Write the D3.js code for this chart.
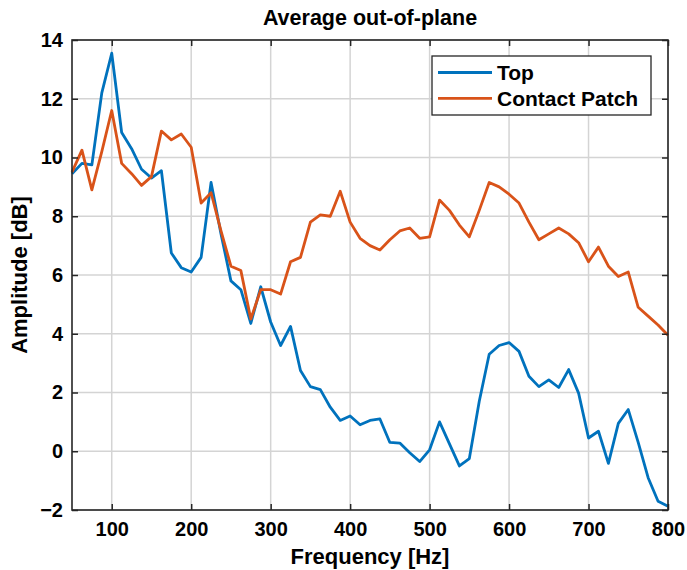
<!DOCTYPE html>
<html>
<head>
<meta charset="utf-8">
<script src="https://cdn.jsdelivr.net/npm/d3@7"></script>
<style>
  html, body { margin: 0; padding: 0; background: #fff; }
  svg { display: block; }
  text { font-family: "Liberation Sans", Arial, Helvetica, sans-serif; font-weight: bold; fill: #000; }
</style>
</head>
<body>
<svg id="chart" width="687" height="570"></svg>
<script>
const frequency = [50, 62.5, 75, 87.5, 100, 112.5, 125, 137.5, 150, 162.5, 175, 187.5, 200, 212.5, 225, 237.5, 250, 262.5, 275, 287.5, 300, 312.5, 325, 337.5, 350, 362.5, 375, 387.5, 400, 412.5, 425, 437.5, 450, 462.5, 475, 487.5, 500, 512.5, 525, 537.5, 550, 562.5, 575, 587.5, 600, 612.5, 625, 637.5, 650, 662.5, 675, 687.5, 700, 712.5, 725, 737.5, 750, 762.5, 775, 787.5, 800];
const topValues = [9.45, 9.8, 9.75, 12.2, 13.55, 10.85, 10.3, 9.6, 9.3, 9.55, 6.75, 6.25, 6.1, 6.6, 9.15, 7.4, 5.8, 5.5, 4.35, 5.6, 4.4, 3.6, 4.25, 2.75, 2.2, 2.1, 1.5, 1.05, 1.2, 0.9, 1.05, 1.1, 0.3, 0.28, -0.05, -0.35, 0.05, 1.0, 0.25, -0.5, -0.25, 1.7, 3.3, 3.6, 3.7, 3.4, 2.55, 2.2, 2.43, 2.17, 2.78, 1.98, 0.45, 0.68, -0.41, 0.95, 1.42, 0.3, -0.9, -1.7, -1.87];
const contactValues = [9.5, 10.25, 8.9, 10.2, 11.6, 9.8, 9.45, 9.05, 9.35, 10.9, 10.6, 10.8, 10.35, 8.45, 8.8, 7.5, 6.3, 6.15, 4.5, 5.5, 5.5, 5.35, 6.45, 6.6, 7.8, 8.05, 8.0, 8.85, 7.8, 7.25, 7.0, 6.85, 7.2, 7.5, 7.6, 7.25, 7.3, 8.55, 8.2, 7.7, 7.3, 8.2, 9.15, 9.0, 8.75, 8.45, 7.8, 7.2, 7.4, 7.6, 7.4, 7.1, 6.45, 6.95, 6.3, 5.95, 6.1, 4.9, 4.6, 4.3, 3.95];
const seriesNames = ["Top", "Contact Patch"];
const seriesColors = ["#0072BD", "#D95319"];
const xTicks = [100, 200, 300, 400, 500, 600, 700, 800];
const yTicks = [-2, 0, 2, 4, 6, 8, 10, 12, 14];
const titleText = "Average out-of-plane";
const xLabel = "Frequency [Hz]";
const yLabel = "Amplitude [dB]";

const svg = d3.select("#chart");
const m = { left: 72, right: 668, top: 40, bottom: 510 };
const x = d3.scaleLinear().domain([50, 800]).range([m.left, m.right]);
const y = d3.scaleLinear().domain([-2, 14]).range([m.bottom, m.top]);

// grid
const grid = svg.append("g");
grid.selectAll(".gx").data(xTicks).join("line")
  .attr("x1", d => x(d)).attr("x2", d => x(d))
  .attr("y1", m.top).attr("y2", m.bottom)
  .attr("stroke", "#d4d4d4").attr("stroke-width", 1.5);
grid.selectAll(".gy").data(yTicks).join("line")
  .attr("x1", m.left).attr("x2", m.right)
  .attr("y1", d => y(d)).attr("y2", d => y(d))
  .attr("stroke", "#d4d4d4").attr("stroke-width", 1.5);

// lines
const line = d3.line().x((d, i) => x(frequency[i])).y(d => y(d));
[topValues, contactValues].forEach((vals, k) => {
  svg.append("path").datum(vals)
    .attr("d", line)
    .attr("fill", "none")
    .attr("stroke", seriesColors[k])
    .attr("stroke-width", 2.8)
    .attr("stroke-linejoin", "round");
});

// axes
const tickLen = 6;
const axB = svg.append("g").attr("transform", `translate(0,${m.bottom})`)
  .call(d3.axisBottom(x).tickValues(xTicks).tickSizeInner(-tickLen).tickSizeOuter(0).tickPadding(12));
const axT = svg.append("g").attr("transform", `translate(0,${m.top})`)
  .call(d3.axisTop(x).tickValues(xTicks).tickSizeInner(-tickLen).tickSizeOuter(0).tickFormat(""));
const axL = svg.append("g").attr("transform", `translate(${m.left},0)`)
  .call(d3.axisLeft(y).tickValues(yTicks).tickSizeInner(-tickLen).tickSizeOuter(0).tickPadding(9));
const axR = svg.append("g").attr("transform", `translate(${m.right},0)`)
  .call(d3.axisRight(y).tickValues(yTicks).tickSizeInner(-tickLen).tickSizeOuter(0).tickFormat(""));
[axB, axT, axL, axR].forEach(a => {
  a.select(".domain").remove();
  a.selectAll(".tick line").attr("stroke", "#262626").attr("stroke-width", 1.5);
  a.selectAll("text").attr("font-size", 20).attr("font-weight", "bold")
    .attr("font-family", "Liberation Sans, Arial, sans-serif").attr("fill", "#000");
});
svg.append("rect")
  .attr("x", m.left).attr("y", m.top)
  .attr("width", m.right - m.left).attr("height", m.bottom - m.top)
  .attr("fill", "none").attr("stroke", "#262626").attr("stroke-width", 1.6);

// title and labels
svg.append("text").attr("x", (m.left + m.right) / 2).attr("y", 25)
  .attr("text-anchor", "middle").attr("font-size", 21.5).text(titleText);
svg.append("text").attr("x", (m.left + m.right) / 2).attr("y", 564)
  .attr("text-anchor", "middle").attr("font-size", 22).text(xLabel);
svg.append("text").attr("transform", `translate(27,${(m.top + m.bottom) / 2}) rotate(-90)`)
  .attr("text-anchor", "middle").attr("font-size", 22).text(yLabel);

// legend
const lg = svg.append("g");
lg.append("rect").attr("x", 432).attr("y", 56).attr("width", 219).attr("height", 59)
  .attr("fill", "#fff").attr("stroke", "#262626").attr("stroke-width", 1.3);
seriesNames.forEach((name, i) => {
  const ly = 72.5 + i * 25.8;
  lg.append("line").attr("x1", 438).attr("x2", 492).attr("y1", ly).attr("y2", ly)
    .attr("stroke", seriesColors[i]).attr("stroke-width", 2.8);
  lg.append("text").attr("x", 497).attr("y", ly).attr("dy", "0.35em")
    .attr("font-size", 21).text(name);
});
</script>
</body>
</html>
